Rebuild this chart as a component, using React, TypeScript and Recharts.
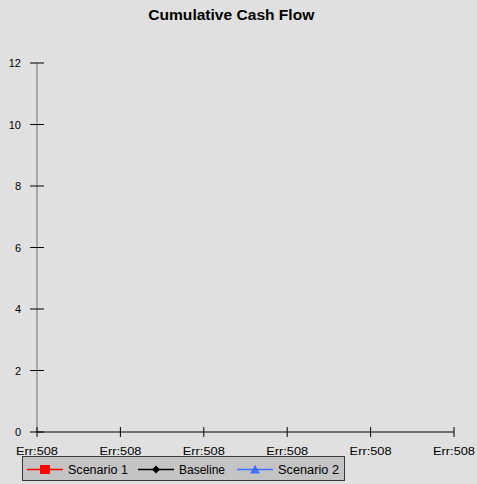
import { LineChart, Line, XAxis, YAxis } from "recharts";

const categories = ["Err:508", "Err:508", "Err:508", "Err:508", "Err:508", "Err:508"];
const scenario1: (number | null)[] = [null, null, null, null, null, null];
const baseline: (number | null)[] = [null, null, null, null, null, null];
const scenario2: (number | null)[] = [null, null, null, null, null, null];
const yTicks = [0, 2, 4, 6, 8, 10, 12];

const data = categories.map((c, i) => ({
  idx: i,
  label: c,
  s1: scenario1[i],
  base: baseline[i],
  s2: scenario2[i],
}));

const FONT = "'Liberation Sans', Arial, sans-serif";
const BG = "#e0e0e0";

const series = [
  { key: "s1", name: "Scenario 1", color: "#ff0000", marker: "square" },
  { key: "base", name: "Baseline", color: "#000000", marker: "diamond" },
  { key: "s2", name: "Scenario 2", color: "#3f6fff", marker: "triangle" },
];

// recharts hands ticks an offset of tickSize + tickMargin (8px) from the axis
function XTick(props: any) {
  const { x, y, payload } = props;
  const ay = y - 8;
  return (
    <g>
      <line x1={x} x2={x} y1={ay - 5} y2={ay + 5} stroke="#000" />
      <text
        x={x}
        y={ay + 23}
        textAnchor="middle"
        fontSize={11.5}
        fontFamily={FONT}
        fill="#000"
        textLength={42}
        lengthAdjust="spacingAndGlyphs"
      >
        {categories[payload.value]}
      </text>
    </g>
  );
}

function YTick(props: any) {
  const { x, y, payload } = props;
  const ax = x + 8;
  return (
    <g>
      <line x1={ax - 7} x2={ax + 7} y1={y} y2={y} stroke="#000" />
      <text x={ax - 16} y={y + 4} textAnchor="end" fontSize={11} fontFamily={FONT} fill="#000">
        {payload.value}
      </text>
    </g>
  );
}

// legend item layout: line start, line end, text start, text width
const legendItems = [
  { x0: 27, x1: 63, tx: 68, tw: 60 },
  { x0: 138, x1: 174, tx: 179, tw: 46 },
  { x0: 237, x1: 273, tx: 278, tw: 61 },
];

function Marker({ type, cx, cy, color }: { type: string; cx: number; cy: number; color: string }) {
  if (type === "square") return <rect x={cx - 5} y={cy - 4.5} width={10} height={9} fill={color} />;
  if (type === "diamond")
    return <polygon points={`${cx},${cy - 4} ${cx + 4},${cy} ${cx},${cy + 4} ${cx - 4},${cy}`} fill={color} />;
  return <polygon points={`${cx},${cy - 4.5} ${cx + 5},${cy + 4} ${cx - 5},${cy + 4}`} fill={color} />;
}

function Overlay() {
  const ly = 469.5;
  return (
    <svg
      width={477}
      height={484}
      style={{ position: "absolute", left: 0, top: 0, pointerEvents: "none" }}
    >
      <text
        x={231.3}
        y={20}
        textAnchor="middle"
        fontFamily={FONT}
        fontWeight="bold"
        fontSize={14}
        fill="#000"
        textLength={166}
        lengthAdjust="spacingAndGlyphs"
      >
        Cumulative Cash Flow
      </text>
      <rect x={22.5} y={456.5} width={322} height={24} fill="#c4c4c4" stroke="#3a3a3a" />
      {series.map((s, i) => {
        const it = legendItems[i];
        return (
          <g key={s.key}>
            <line x1={it.x0} x2={it.x1} y1={ly} y2={ly} stroke={s.color} strokeWidth={1.3} />
            <Marker type={s.marker} cx={(it.x0 + it.x1) / 2} cy={ly} color={s.color} />
            <text
              x={it.tx}
              y={ly + 4.5}
              fontFamily={FONT}
              fontSize={12.5}
              fill="#000"
              textLength={it.tw}
              lengthAdjust="spacingAndGlyphs"
            >
              {s.name}
            </text>
          </g>
        );
      })}
    </svg>
  );
}

export default function App() {
  return (
    <div style={{ position: "absolute", left: 0, top: 0, width: 477, height: 484, background: BG }}>
      <LineChart
        width={477}
        height={484}
        data={data}
        margin={{ top: 63, right: 23, left: 0, bottom: 22 }}
      >
        <XAxis
          dataKey="idx"
          type="category"
          tick={<XTick />}
          tickLine={false}
          axisLine={{ stroke: "#000" }}
          interval={0}
          height={30}
        />
        <YAxis
          type="number"
          domain={[0, 12]}
          ticks={yTicks}
          allowDataOverflow
          tick={<YTick />}
          tickLine={false}
          axisLine={{ stroke: "#707070" }}
          width={37}
          interval={0}
        />
        {series.map((s) => (
          <Line
            key={s.key}
            dataKey={s.key}
            name={s.name}
            stroke={s.color}
            dot={false}
            isAnimationActive={false}
          />
        ))}
      </LineChart>
      <Overlay />
    </div>
  );
}
